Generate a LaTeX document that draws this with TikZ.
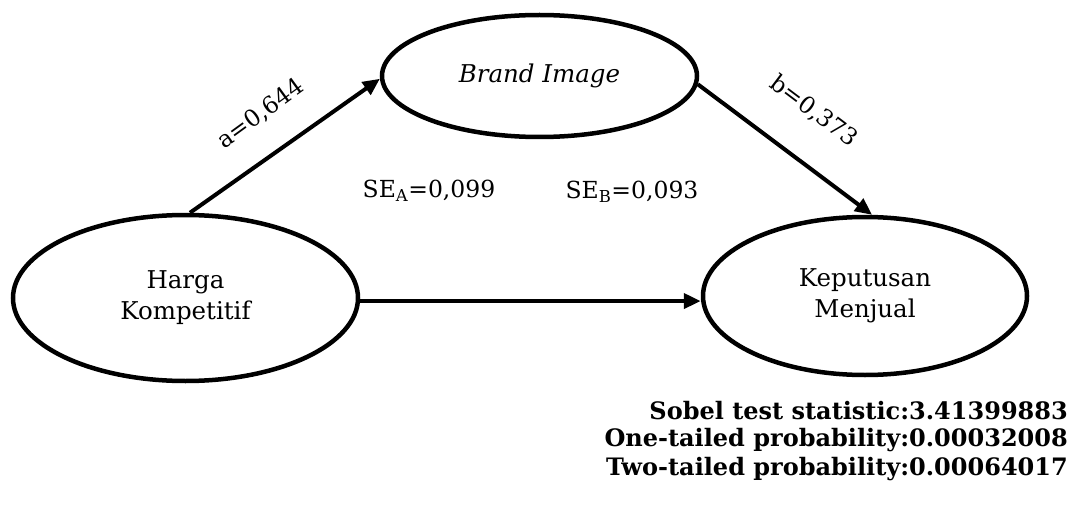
\documentclass[tikz,border=0pt]{standalone}
\usepackage{fontspec}
\setmainfont{DejaVu Serif}
\usetikzlibrary{shapes.geometric,arrows.meta}
\begin{document}
\begin{tikzpicture}[x=1pt,y=-1pt,
  var/.style={ellipse,draw,line width=4.5pt,inner sep=0pt,align=center,font=\fontsize{24.5}{31}\selectfont},
  conn/.style={line width=4pt,-{Triangle[length=17pt,width=15pt]}},
  lbl/.style={font=\fontsize{23.5}{30}\selectfont,inner sep=0pt},
  res/.style={font=\bfseries\fontsize{24}{29}\selectfont,inner sep=0pt,anchor=east}]
\useasboundingbox (0,0) rectangle (1074,516);
\node[var,minimum width=315pt,minimum height=122pt] (brand) at (539.5,76) {\itshape Brand Image};
\node[var,minimum width=345pt,minimum height=166pt] (harga) at (185.5,298) {Harga\\Kompetitif};
\node[var,minimum width=324pt,minimum height=158pt] (kep) at (865,296) {Keputusan\\Menjual};
\draw[conn] (harga.87) -- (brand.181);
\draw[conn] (brand.-3) -- (kep.85);
\draw[conn] (harga.-1) -- (harga.-1 -| kep.west);
\node[lbl,rotate=36] (la) at (261,114) {a=0,644};
\node[lbl,rotate=-37] (lb) at (814,111) {b=0,373};
\node[lbl] (sea) at (429,191) {SE\textsubscript{A}=0,099};
\node[lbl] (seb) at (632,192) {SE\textsubscript{B}=0,093};
\node[res] (r1) at (1068,411) {Sobel test statistic:3.41399883};
\node[res] (r2) at (1068,440) {One-tailed probability:0.00032008};
\node[res] (r3) at (1068,469) {Two-tailed probability:0.00064017};
\end{tikzpicture}
\end{document}
